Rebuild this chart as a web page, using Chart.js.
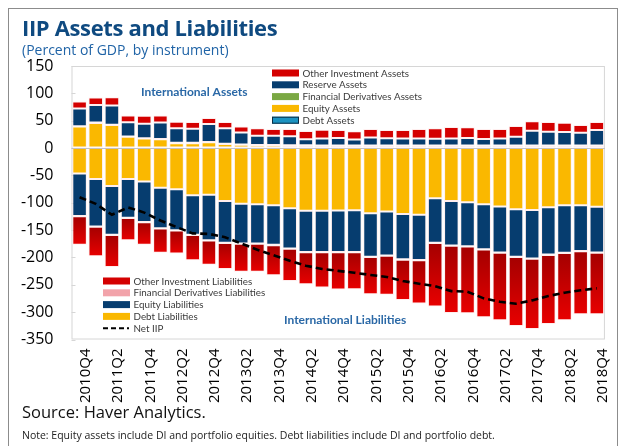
<!DOCTYPE html>
<html>
<head>
<meta charset="utf-8">
<title>IIP Assets and Liabilities</title>
<script src="https://cdn.jsdelivr.net/npm/chart.js@4.4.1/dist/chart.umd.min.js"></script>
<style>
    html, body { margin: 0; padding: 0; background: #fff; }
    #wrap { position: relative; width: 624px; height: 446px; overflow: hidden; font-family: 'Open Sans', 'Noto Sans', sans-serif; }
    #frame { position: absolute; left: 8px; top: 8px; width: 610px; height: 460px; border: 1px solid #8c8c8c; box-sizing: border-box; }
    #iipChart { position: absolute; left: 0; top: 0; }
    .txt { position: absolute; white-space: nowrap; line-height: 1; }
    #title { left: 22px; top: 16px; font-size: 22px; font-weight: 700; color: #0f4a80; letter-spacing: -0.35px; }
    #subtitle { left: 22px; top: 43px; font-size: 14px; color: #1f63a6; }
    #source { left: 22px; top: 404px; font-size: 16.5px; color: #111; }
    #note { left: 22px; top: 430px; font-size: 10.5px; color: #222; }
</style>
</head>
<body>
<div id="wrap">
    <div id="frame"></div>
    <canvas id="iipChart" width="624" height="446"></canvas>
    <div class="txt" id="title">IIP Assets and Liabilities</div>
    <div class="txt" id="subtitle">(Percent of GDP, by instrument)</div>
    <div class="txt" id="source">Source: Haver Analytics.</div>
    <div class="txt" id="note">Note: Equity assets include DI and portfolio equities. Debt liabilities include DI and portfolio debt.</div>
</div>
<script>
const quarters = [
    '2010Q4', '2011Q1', '2011Q2', '2011Q3', '2011Q4', '2012Q1', '2012Q2', '2012Q3', '2012Q4',
    '2013Q1', '2013Q2', '2013Q3', '2013Q4', '2014Q1', '2014Q2', '2014Q3', '2014Q4',
    '2015Q1', '2015Q2', '2015Q3', '2015Q4', '2016Q1', '2016Q2', '2016Q3', '2016Q4',
    '2017Q1', '2017Q2', '2017Q3', '2017Q4', '2018Q1', '2018Q2', '2018Q3', '2018Q4'
];

// assets, percent of GDP
const debtAssets = [1, 1, 1, 1, 1, 1, 1, 1, 1, 1, 1, 1, 1, 1, 1, 1, 1, 1, 1, 1, 1, 1, 1, 1, 1, 1, 1, 1, 1, 1, 1, 1, 1];
const equityAssets = [38.5, 45, 41, 19.5, 16.5, 15, 8, 8, 9.5, 6.5, 5, 4, 4, 3.5, 3.5, 3, 3, 3, 3, 3, 3, 3, 3, 3, 3, 3, 3, 3, 3, 3, 3, 3, 3];
const finDerivAssets = [0.5, 0.5, 0.5, 0.5, 0.5, 0.5, 0.5, 0.5, 0.5, 0.5, 0.5, 0.5, 0.5, 0.5, 0.5, 0.5, 0.5, 0.5, 0.5, 0.5, 0.5, 0.5, 0.5, 0.5, 0.5, 0.5, 0.5, 0.5, 0.5, 0.5, 0.5, 0.5, 0.5];
const reserveAssets = [32.4, 32.4, 35.5, 26.2, 26.4, 30, 26.5, 25.8, 33, 28.2, 22.1, 17.2, 17.2, 16.6, 11.1, 13.1, 14, 11.3, 15, 13.3, 12.8, 13, 12.5, 12.8, 14, 12, 13.1, 16.2, 27.2, 25.4, 24.7, 23.5, 28.4];
const otherInvAssets = [12.9, 13.5, 14.7, 12.4, 14.7, 12.9, 12.2, 12.3, 11, 11.6, 11, 13.5, 12.2, 13.4, 15.2, 15.9, 14.5, 14.7, 15.5, 15.2, 15.7, 17.2, 19, 21.1, 19.7, 18.2, 17.1, 19.5, 17.1, 17.7, 17.1, 14, 14.7];

// liabilities, percent of GDP (negative)
const debtLiab = [-46.5, -56.8, -69.6, -56.8, -61, -72.6, -75.1, -86.1, -85.5, -97, -102, -102.6, -104.4, -110, -114.5, -114.8, -114, -113.6, -119, -116, -120.5, -121.8, -92, -96.8, -99, -102.6, -107, -111.8, -113.3, -108.2, -104.4, -104.4, -107.5];
const equityLiab = [-77.8, -86.5, -88.7, -70.5, -74, -73.9, -75.1, -72.4, -83, -75.9, -72.5, -71.9, -72.6, -73.8, -75.4, -75.1, -76, -76.3, -79.5, -80.5, -83, -83, -81, -81.5, -80.3, -82.4, -84.1, -86.7, -88.5, -86.6, -87.1, -83.6, -83.6];
const finDerivLiab = [-0.5, -0.5, -0.5, -0.5, -0.5, -0.5, -0.5, -0.5, -0.5, -0.5, -0.5, -0.5, -0.5, -0.5, -0.5, -0.5, -0.5, -0.5, -0.5, -0.5, -0.5, -0.5, -0.5, -0.5, -0.5, -0.5, -0.5, -0.5, -0.5, -0.5, -0.5, -0.5, -0.5];
const otherInvLiab = [-52.2, -54.1, -58.6, -40.7, -41.5, -44.5, -42.3, -46.2, -44.5, -47.6, -51, -51, -55.1, -58.7, -58.6, -64.6, -67.9, -67.9, -68.5, -71, -73.9, -78.8, -116.3, -122.9, -122.1, -124, -123.1, -126.4, -128.7, -126.5, -122.7, -115.5, -112.4];

const netIIP = [-90, -102, -122, -108.5, -118, -132.5, -144.5, -156, -157, -163, -174.5, -186, -196, -206, -215, -221, -224.5, -228, -232, -235.7, -243, -248, -252.5, -261.5, -262.6, -274.8, -281, -284.6, -278.5, -270.5, -264.4, -260, -256.4];

const yTicks = [150, 100, 50, 0, -50, -100, -150, -200, -250, -300, -350];

const RED = '#d40000';
const NAVY = '#063d6f';
const YELLOW = '#fab800';
const GREEN = '#7aa843';
const TEAL = '#1c93c1';
const PINK = '#f2a3aa';
const FONT = "'Open Sans', 'Noto Sans', sans-serif";
const LEGEND_FONT = "Lato, 'Open Sans', sans-serif";

const bar = (label, data, color, swatch) => ({
    type: 'bar', label, data, swatch: swatch || color,
    backgroundColor: color,
    borderColor: 'rgba(255, 235, 235, 0.85)',
    borderWidth: 1,
    borderSkipped: false,
    barPercentage: 0.9,
    categoryPercentage: 1
});

// other investment liabilities shade from dark red at the top of the segment to bright red at its foot
const liabRed = context => {
    const y = context.chart.scales.y;
    if (context.type !== 'data' || !y) return RED;
    const i = context.dataIndex;
    const top = debtLiab[i] + equityLiab[i] + finDerivLiab[i];
    const y0 = y.getPixelForValue(top);
    const y1 = y.getPixelForValue(top + otherInvLiab[i]);
    if (!isFinite(y0) || !isFinite(y1) || y0 === y1) return RED;
    const g = context.chart.ctx.createLinearGradient(0, y0, 0, y1);
    g.addColorStop(0, '#a40000');
    g.addColorStop(1, '#e80000');
    return g;
};

// legend boxes sit inside the plot, one for assets and one for liabilities
const legendBoxes = [
    { x: 272, y: 73, labels: ['Other Investment Assets', 'Reserve Assets', 'Financial Derivatives Assets', 'Equity Assets', 'Debt Assets'] },
    { x: 103, y: 281, labels: ['Other Investment Liabilities', 'Financial Derivatives Liabilities', 'Equity Liabilities', 'Debt Liabilities', 'Net IIP'] }
];

const frameAndLegend = {
    id: 'frameAndLegend',
    beforeDatasetsDraw(chart) {
        const { ctx, chartArea: a, scales: { y } } = chart;
        ctx.save();
        ctx.strokeStyle = '#d6d6d6';
        ctx.lineWidth = 1;
        ctx.strokeRect(a.left + 0.5, a.top + 0.5, a.right - a.left - 1, a.bottom - a.top - 1);
        yTicks.forEach(v => {
            const py = Math.round(y.getPixelForValue(v)) + 0.5;
            ctx.beginPath();
            ctx.moveTo(a.left, py);
            ctx.lineTo(a.left + 4, py);
            ctx.stroke();
        });
        ctx.restore();
    },
    afterDatasetsDraw(chart) {
        const { ctx, chartArea: a, scales: { y } } = chart;
        ctx.save();
        const zero = Math.round(y.getPixelForValue(0)) + 0.5;
        ctx.strokeStyle = 'rgba(190, 190, 190, 0.9)';
        ctx.beginPath();
        ctx.moveTo(a.left, zero);
        ctx.lineTo(a.right, zero);
        ctx.stroke();

        ctx.font = `9.8px ${LEGEND_FONT}`;
        ctx.textBaseline = 'middle';
        legendBoxes.forEach(box => {
            box.labels.forEach((label, i) => {
                const ds = chart.data.datasets.find(d => d.label === label);
                const ry = box.y + i * 11.8;
                if (ds.type === 'line') {
                    ctx.strokeStyle = ds.borderColor;
                    ctx.lineWidth = 2;
                    ctx.setLineDash([5, 3]);
                    ctx.beginPath();
                    ctx.moveTo(box.x, ry);
                    ctx.lineTo(box.x + 26, ry);
                    ctx.stroke();
                    ctx.setLineDash([]);
                } else {
                    ctx.fillStyle = ds.swatch;
                    ctx.fillRect(box.x, ry - 3.5, 27, 7);
                    if (label === 'Debt Assets') {
                        ctx.strokeStyle = '#0b2c44';
                        ctx.lineWidth = 1;
                        ctx.strokeRect(box.x + 0.5, ry - 3, 26, 6);
                    }
                }
                ctx.fillStyle = '#3a3a3a';
                ctx.fillText(label, box.x + 30.5, ry + 0.5);
            });
        });

        ctx.font = `bold 12px ${LEGEND_FONT}`;
        ctx.fillStyle = '#2a68a6';
        ctx.fillText('International Assets', 141, 92);
        ctx.fillText('International Liabilities', 284, 320);
        ctx.restore();
    }
};

function makeIipChart() {
    const canvas = document.getElementById('iipChart');
    return new Chart(canvas.getContext('2d'), {
        data: {
            labels: quarters,
            datasets: [
                bar('Debt Assets', debtAssets, TEAL),
                bar('Equity Assets', equityAssets, YELLOW),
                bar('Financial Derivatives Assets', finDerivAssets, GREEN),
                bar('Reserve Assets', reserveAssets, NAVY),
                bar('Other Investment Assets', otherInvAssets, RED),
                bar('Debt Liabilities', debtLiab, YELLOW),
                bar('Equity Liabilities', equityLiab, NAVY),
                bar('Financial Derivatives Liabilities', finDerivLiab, PINK),
                bar('Other Investment Liabilities', otherInvLiab, liabRed, RED),
                {
                    type: 'line',
                    label: 'Net IIP',
                    data: netIIP,
                    stack: 'net',
                    order: -1,
                    borderColor: '#000000',
                    borderWidth: 2.6,
                    borderDash: [7, 4],
                    pointRadius: 0,
                    tension: 0,
                    fill: false
                }
            ]
        },
        options: {
            responsive: false,
            animation: false,
            devicePixelRatio: 1,
            layout: { padding: { left: 0, right: 11.5, top: 66, bottom: 0 } },
            plugins: { legend: { display: false }, tooltip: { enabled: false } },
            scales: {
                x: {
                    stacked: true,
                    grid: { display: false, drawTicks: false },
                    border: { display: false },
                    afterFit: scale => { scale.height = 106.5; },
                    ticks: {
                        autoSkip: false,
                        minRotation: 90,
                        maxRotation: 90,
                        padding: 9,
                        labelOffset: 6,
                        color: '#000',
                        font: { family: FONT, size: 15 },
                        callback: (value, index) => index % 2 === 0 ? quarters[index] : ''
                    }
                },
                y: {
                    stacked: true,
                    min: -350,
                    max: 150,
                    grid: { display: false, drawTicks: false },
                    border: { display: false },
                    afterFit: scale => { scale.width = 71.5; },
                    ticks: {
                        stepSize: 50,
                        padding: 18,
                        color: '#000',
                        font: { family: FONT, size: 16 }
                    }
                }
            }
        },
        plugins: [frameAndLegend]
    });
}

document.addEventListener('DOMContentLoaded', makeIipChart);
</script>
</body>
</html>
